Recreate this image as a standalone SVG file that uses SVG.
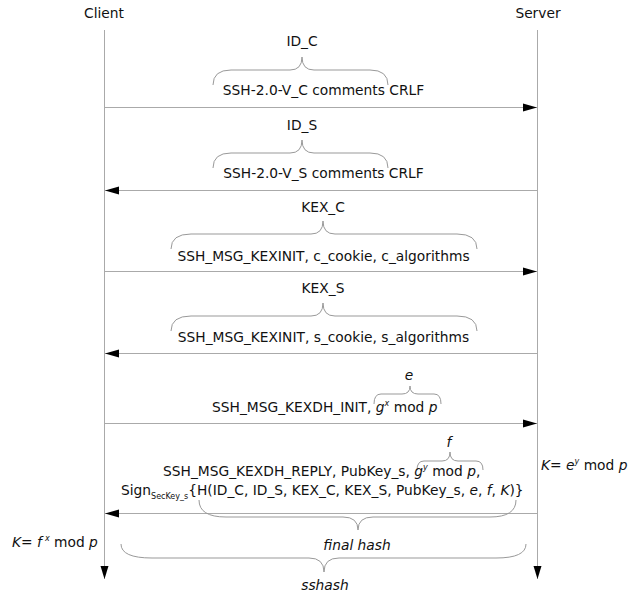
<svg xmlns="http://www.w3.org/2000/svg" width="634" height="592" viewBox="0 0 634 592">
<style>
text{font-family:"DejaVu Sans","Liberation Sans",sans-serif;font-size:13.8px;fill:#111}
.c{text-anchor:middle}
.i{font-style:italic}
.sup{font-size:8px}
.life{stroke:#aaa;stroke-width:1;fill:none}
.msg{stroke:#aaa;stroke-width:1;fill:none}
.br{stroke:#999;stroke-width:1;fill:none}
</style>
<defs>
<marker id="ah" markerUnits="userSpaceOnUse" markerWidth="14" markerHeight="8" refX="14" refY="4" orient="auto" overflow="visible">
<path d="M0,0 L14,4 L0,8 z" fill="#000"/>
</marker>
<marker id="lh" markerUnits="userSpaceOnUse" markerWidth="13" markerHeight="8" refX="13" refY="4" orient="auto" overflow="visible">
<path d="M0,0 L13,4 L0,8 z" fill="#000"/>
</marker>
</defs>
<rect width="634" height="592" fill="#fff"/>
<g id="client">
<text class="c" x="104" y="18">Client</text>
<line class="life" x1="104.5" y1="30" x2="104.5" y2="579" marker-end="url(#lh)"/>
</g>
<g id="server">
<text class="c" x="538" y="18">Server</text>
<line class="life" x1="537.5" y1="30" x2="537.5" y2="579" marker-end="url(#lh)"/>
</g>
<g id="connectors">
<line class="msg" x1="105" y1="107.5" x2="537" y2="107.5" marker-end="url(#ah)"/>
<line class="msg" x1="537" y1="190.5" x2="105" y2="190.5" marker-end="url(#ah)"/>
<line class="msg" x1="105" y1="271.5" x2="537" y2="271.5" marker-end="url(#ah)"/>
<line class="msg" x1="537" y1="353.5" x2="105" y2="353.5" marker-end="url(#ah)"/>
<line class="msg" x1="105" y1="423.5" x2="537" y2="423.5" marker-end="url(#ah)"/>
<line class="msg" x1="537" y1="513.5" x2="105" y2="513.5" marker-end="url(#ah)"/>
</g>
<g id="msg1">
<text class="c" x="302" y="46">ID_C</text>
<path class="br" d="M213,85 Q213,70 231,70 L290,70 Q302,70 302,57 Q302,70 314,70 L370,70 Q388,70 388,85"/>
<text class="c" x="323.5" y="95">SSH-2.0-V_C comments CRLF</text>
</g>
<g id="msg2">
<text class="c" x="302" y="130">ID_S</text>
<path class="br" d="M213,168 Q213,153 231,153 L290,153 Q302,153 302,140 Q302,153 314,153 L370,153 Q388,153 388,168"/>
<text class="c" x="323.5" y="178">SSH-2.0-V_S comments CRLF</text>
</g>
<g id="msg3">
<text class="c" x="323" y="212">KEX_C</text>
<path class="br" d="M171,249 Q171,234 191,234 L311,234 Q323,234 323,221 Q323,234 335,234 L457,234 Q477,234 477,249"/>
<text class="c" x="323.5" y="261">SSH_MSG_KEXINIT, c_cookie, c_algorithms</text>
</g>
<g id="msg4">
<text class="c" x="323" y="293">KEX_S</text>
<path class="br" d="M171,331 Q171,316 191,316 L311,316 Q323,316 323,303 Q323,316 335,316 L457,316 Q477,316 477,331"/>
<text class="c" x="323.5" y="342">SSH_MSG_KEXINIT, s_cookie, s_algorithms</text>
</g>
<g id="msg5">
<text class="c i" x="409" y="380">e</text>
<path class="br" d="M374,404 Q374,394 381,394 L402,394 Q410,394 410,386 Q410,394 418,394 L434,394 Q441,394 441,404"/>
<text x="212" y="412">SSH_MSG_KEXDH_INIT, <tspan class="i">g</tspan><tspan class="sup i" dy="-6">x</tspan><tspan dy="6"> mod </tspan><tspan class="i">p</tspan></text>
</g>
<g id="msg6">
<text class="c i" x="449" y="447">f</text>
<path class="br" d="M417,470 Q417,461 424,461 L442,461 Q450,461 450,452 Q450,461 458,461 L476,461 Q483,461 483,470"/>
<text x="163" y="476">SSH_MSG_KEXDH_REPLY, PubKey_s, <tspan class="i">g</tspan><tspan class="sup i" dy="-6">y</tspan><tspan dy="6"> mod </tspan><tspan class="i">p</tspan>,</text>
<text x="121" y="495">Sign<tspan class="sup" dy="4">SecKey_s</tspan><tspan dy="-4">{H(ID_C, ID_S, KEX_C, KEX_S, PubKey_s, </tspan><tspan class="i">e</tspan>, <tspan class="i">f</tspan>, <tspan class="i">K</tspan>)}</text>
</g>
<g id="server-key">
<text x="541" y="470"><tspan class="i">K</tspan>= <tspan class="i">e</tspan><tspan class="sup i" dy="-6">y</tspan><tspan dy="6"> mod </tspan><tspan class="i">p</tspan></text>
</g>
<g id="client-key">
<text x="12" y="547"><tspan class="i">K</tspan>= <tspan class="i">f</tspan><tspan class="sup i" dx="3" dy="-6">x</tspan><tspan dy="6"> mod </tspan><tspan class="i">p</tspan></text>
</g>
<g id="final-hash">
<path class="br" d="M199,500 Q199,517 226,517 L343,517 Q358,517 358,530 Q358,517 373,517 L490,517 Q516,517 516,500"/>
<text class="c i" x="357" y="550">final hash</text>
</g>
<g id="sshash">
<path class="br" d="M121,544 Q121,558 152,558 L309,558 Q324,558 324,572 Q324,558 339,558 L496,558 Q526,558 526,544"/>
<text class="c i" x="325" y="590">sshash</text>
</g>
</svg>
